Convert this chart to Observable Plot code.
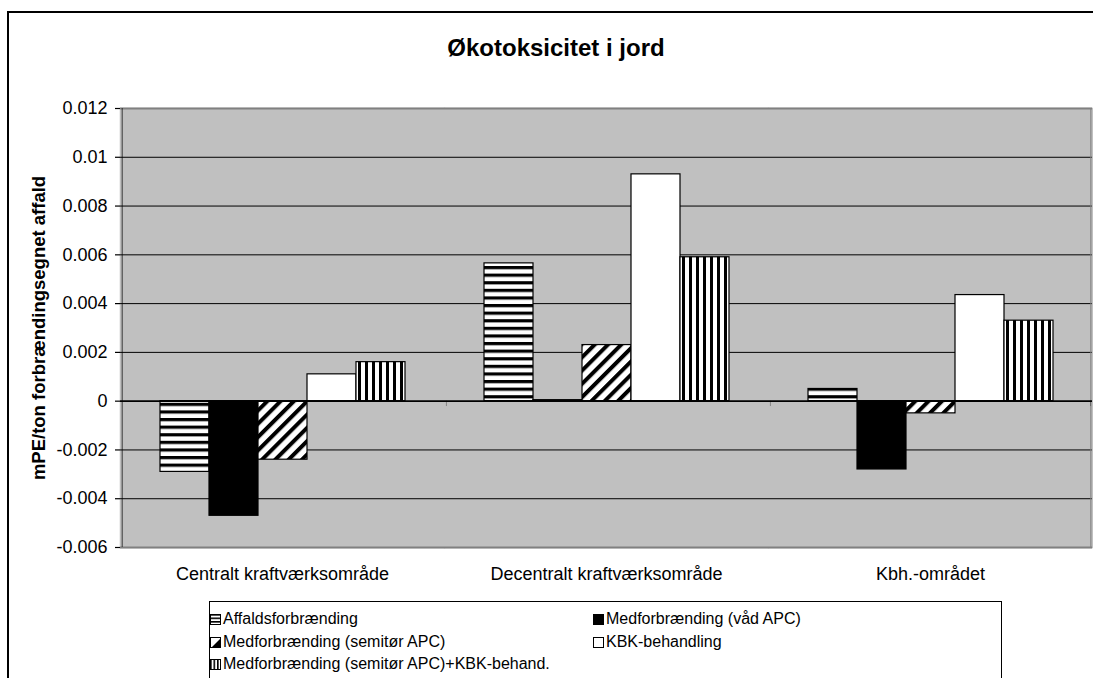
<!DOCTYPE html>
<html><head><meta charset="utf-8">
<script src="https://cdn.jsdelivr.net/npm/d3@7"></script>
<script src="https://cdn.jsdelivr.net/npm/@observablehq/plot@0.6"></script>
<style>
html,body{margin:0;padding:0;background:#fff;font-family:"Liberation Sans",Arial,sans-serif;color:#000;overflow:hidden;width:1093px;height:678px;}
#wrap{position:relative;width:1093px;height:678px;overflow:hidden;clip-path:inset(0);background:#fff;}
#border{position:absolute;left:7px;top:11px;width:1086px;height:667px;border-left:2px solid #000;border-top:2px solid #000;box-sizing:border-box;}
#title{position:absolute;left:0;width:1112px;top:35px;text-align:center;font-weight:bold;font-size:24px;line-height:26px;}
#ylabel{position:absolute;left:39px;top:328px;transform:translate(-50%,-50%) rotate(-90deg);white-space:nowrap;font-weight:bold;font-size:18.5px;line-height:20px;}
#chart{position:absolute;left:0;top:0;width:1093px;height:600px;overflow:hidden;}
#legend{position:absolute;left:209px;top:601px;width:793px;height:120px;border:1px solid #000;box-sizing:border-box;font-size:16px;}
.item{position:absolute;display:flex;align-items:center;white-space:nowrap;height:20px;line-height:20px;}
.item svg{margin-right:2px;display:block;}
</style></head><body>
<svg width="0" height="0" style="position:absolute"><defs>
<pattern id="pH" patternUnits="userSpaceOnUse" width="8" height="7.6"><rect width="8" height="7.6" fill="#fff"/><rect y="0" width="8" height="3.2" fill="#000"/></pattern>
<pattern id="pV" patternUnits="userSpaceOnUse" width="7" height="8"><rect width="7" height="8" fill="#fff"/><rect width="3" height="8" fill="#000"/></pattern>
<pattern id="pD" patternUnits="userSpaceOnUse" width="9.4" height="10" patternTransform="rotate(45)"><rect width="9.4" height="10" fill="#fff"/><rect width="4" height="10" fill="#000"/></pattern>
<pattern id="sH" patternUnits="userSpaceOnUse" width="4" height="3.5"><rect width="4" height="3.5" fill="#fff"/><rect width="4" height="1.6" fill="#000"/></pattern>
<pattern id="sV" patternUnits="userSpaceOnUse" width="3.5" height="4"><rect width="3.5" height="4" fill="#fff"/><rect width="1.6" height="4" fill="#000"/></pattern>
<pattern id="sD" patternUnits="userSpaceOnUse" width="12" height="12"><rect width="12" height="12" fill="#fff"/><path d="M0,12 L12,0 L12,12 Z" fill="#000"/></pattern>
</defs></svg>
<div id="wrap">
  <div id="border"></div>
  <div id="title">Økotoksicitet i jord</div>
  <div id="chart"></div>
  <div id="ylabel">mPE/ton forbrændingsegnet affald</div>
  <div id="legend"></div>
</div>
<script>
// ---- data ----
const categories = ["Centralt kraftværksområde", "Decentralt kraftværksområde", "Kbh.-området"];
const series = [
  "Affaldsforbrænding",
  "Medforbrænding (våd APC)",
  "Medforbrænding (semitør APC)",
  "KBK-behandling",
  "Medforbrænding (semitør APC)+KBK-behand."
];
const affaldsforbraending = [-0.0029, 0.00565, 0.0005];
const medforbraendingVaad = [-0.0047, 0.00004, -0.0028];
const medforbraendingSemitoer = [-0.0024, 0.0023, -0.0005];
const kbkBehandling = [0.0011, 0.0093, 0.00435];
const semitoerPlusKbk = [0.0016, 0.0059, 0.0033];
const yTicks = [-0.006, -0.004, -0.002, 0, 0.002, 0.004, 0.006, 0.008, 0.01, 0.012];

// ---- styles ----
const barFills = ["url(#pH)", "#000", "url(#pD)", "#fff", "url(#pV)"];
const swatchFills = ["url(#sH)", "#000", "url(#sD)", "#fff", "url(#sV)"];

const seriesValues = [affaldsforbraending, medforbraendingVaad, medforbraendingSemitoer, kbkBehandling, semitoerPlusKbk];
const rows = [];
series.forEach((s, j) => categories.forEach((c, i) => rows.push({cat: c, series: s, value: seriesValues[j][i]})));

const W = 1093, H = 600, mL = 119, mR = 1, mT = 108, mB = 53;
const facetW = (W - mL - mR) / categories.length;
const step = facetW / (series.length + 1.5);
const outer = 0.75 * step;
const leftEdge = (w) => ({insetLeft: -outer - w / 2, insetRight: step + outer - w / 2});
const rightEdge = (w) => ({insetLeft: step + outer - w / 2, insetRight: -outer - w / 2});

const first = [{cat: categories[0]}];
const notFirst = categories.slice(1).map(c => ({cat: c}));
const last = [{cat: categories[categories.length - 1]}];
const lo = yTicks[0], hi = yTicks[yTicks.length - 1];
const tickLen = 0.00022;

const fmt = d => String(+d.toFixed(4));

const chart = Plot.plot({
  width: W, height: H,
  marginTop: mT, marginBottom: mB, marginLeft: mL, marginRight: mR,
  style: {fontFamily: "'Liberation Sans', Arial, sans-serif", fontSize: "18px", color: "#000", background: "transparent"},
  fx: {domain: categories, padding: 0, label: null},
  x: {domain: series, paddingInner: 0, paddingOuter: 0.75, axis: null},
  y: {domain: [lo, hi], label: null},
  color: {type: "ordinal", domain: series, range: barFills},
  marks: [
    Plot.frame({fill: "#C0C0C0", stroke: "#C0C0C0", strokeWidth: 1.5}),
    Plot.gridY(yTicks.slice(1, -1).filter(d => d !== 0), {stroke: "#000", strokeOpacity: 1, strokeWidth: 1}),
    Plot.ruleY([lo, hi], {stroke: "#808080", strokeWidth: 2}),
    Plot.barY(last, {fx: "cat", x: () => series[series.length - 1], y1: lo, y2: hi, fill: "#808080", ...rightEdge(2)}),
    Plot.barY(rows, {fx: "cat", x: "series", y: "value", fill: "series", stroke: "#000", strokeWidth: 1.2}),
    Plot.ruleY([0], {stroke: "#000", strokeWidth: 1.6}),
    Plot.barY(first, {fx: "cat", x: () => series[0], y1: lo, y2: hi, fill: "#000", ...leftEdge(1.6)}),
    Plot.barY(notFirst, {fx: "cat", x: () => series[0], y1: -tickLen, y2: 0, fill: "#000", ...leftEdge(1.2)}),
    Plot.barY(last, {fx: "cat", x: () => series[series.length - 1], y1: -tickLen, y2: 0, fill: "#000", ...rightEdge(1.2)}),
    Plot.axisY({ticks: yTicks, tickFormat: fmt, tickSize: 5, tickPadding: 8, label: null, stroke: "#000", strokeWidth: 1.2}),
    Plot.axisFx({anchor: "bottom", tickSize: 0, tickPadding: 20, label: null})
  ]
});
document.getElementById("chart").appendChild(chart);

// ---- legend ----
const legend = document.getElementById("legend");
const legendPos = [[0, 7], [383, 7], [0, 30], [383, 30], [0, 52]];
series.forEach((s, j) => {
  const item = document.createElement("div");
  item.className = "item";
  item.style.left = legendPos[j][0] + "px";
  item.style.top = legendPos[j][1] + "px";
  item.innerHTML = `<svg width="11" height="11"><rect x="0.5" y="0.5" width="10" height="10" fill="${swatchFills[j]}" stroke="#000" stroke-width="1"/></svg><span>${s}</span>`;
  legend.appendChild(item);
});
</script>
</body></html>
